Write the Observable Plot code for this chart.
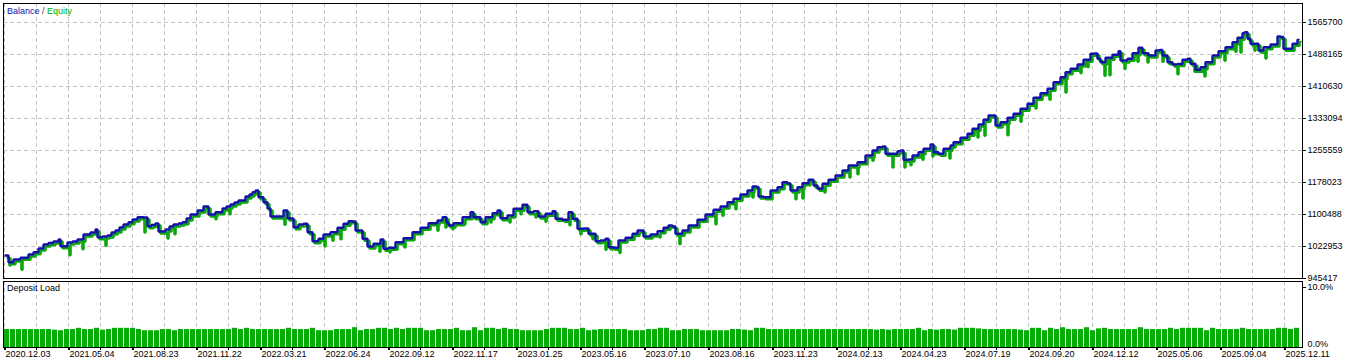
<!DOCTYPE html>
<html><head><meta charset="utf-8">
<script src="https://cdn.jsdelivr.net/npm/d3@7"></script>
<script src="https://cdn.jsdelivr.net/npm/@observablehq/plot@0.6"></script>
<style>
html,body{margin:0;padding:0;background:#fff;}
#wrap{position:relative;width:1345px;height:361px;overflow:hidden;}
#wrap svg{display:block;overflow:visible;}
.lbl{position:absolute;font:9px "Liberation Sans",Arial,sans-serif;line-height:9px;white-space:pre;}
</style></head><body>
<div id="wrap"></div>
<script>
// ---- data (trade number on x, balance in thousands) ----
const balanceTrade = [0,4,9,16,24,29,34,39,44,49,54,56,63,68,73,79,86,91,93,98,103,107,111,115,119,124,128,133,139,143,147,151,154,161,165,169,174,178,182,186,193,199,203,204,211,218,222,226,230,234,241,245,248,251,254,259,263,266,273,279,283,289,294,299,303,308,314,319,326,333,339,344,348,351,358,363,369,376,379,384,391,399,408,416,424,433,438,442,444,449,458,466,469,476,481,488,493,496,503,509,518,523,529,534,541,548,551,558,564,568,573,579,584,591,596,601,604,609,614,621,628,633,638,639,646,653,659,664,668,671,678,684,693,701,709,716,723,729,736,743,748,752,754,759,766,773,778,783,786,793,798,804,809,813,818,824,831,838,844,853,861,868,873,878,881,888,893,896,899,904,908,914,919,926,929,934,939,946,949,956,963,968,974,979,984,988,991,996,1003,1009,1016,1023,1029,1036,1043,1049,1056,1061,1066,1073,1079,1086,1090,1093,1096,1101,1108,1114,1116,1123,1128,1134,1138,1144,1151,1155,1158,1163,1168,1173,1178,1183,1186,1191,1196,1201,1208,1214,1221,1228,1233,1238,1240,1243,1246,1251,1254,1259,1266,1273,1276,1279,1284,1288,1293,1294];
const balanceK = [1001.1,984.9,991.5,995.6,1003.6,1009.1,1018.1,1027.8,1031.4,1035.1,
1039.9,1023.7,1032.6,1035.1,1039.9,1052.0,1056.9,1064.1,1045.5,1047.2,
1049.6,1056.9,1061.7,1069.0,1076.3,1081.8,1088.4,1093.9,1093.2,1072.1,
1075.0,1078.7,1059.3,1064.1,1071.4,1076.3,1078.7,1081.8,1090.8,1100.5,
1110.2,1119.9,1119.9,1100.5,1106.1,1115.0,1119.9,1124.7,1129.6,1134.4,
1144.1,1148.9,1154.5,1158.6,1142.4,1130.3,1115.0,1095.6,1095.6,1110.2,
1090.8,1069.7,1076.3,1078.0,1057.6,1035.8,1041.6,1052.0,1057.6,1068.3,
1078.0,1084.3,1083.5,1061.7,1041.6,1023.0,1029.5,1039.9,1017.4,1019.8,
1033.4,1043.1,1057.6,1068.3,1079.4,1085.9,1093.9,1081.1,1073.8,1079.4,
1093.9,1106.1,1093.9,1081.8,1093.9,1103.6,1110.2,1091.5,1098.1,1114.3,
1124.0,1106.1,1108.5,1095.6,1102.2,1108.5,1090.1,1087.6,1106.1,1090.1,
1065.8,1066.6,1053.7,1035.8,1037.5,1041.6,1021.3,1019.8,1037.5,1044.0,
1053.7,1061.7,1061.7,1047.2,1052.0,1060.0,1068.3,1073.8,1071.4,1053.7,
1061.7,1073.8,1087.6,1100.5,1111.9,1119.9,1130.3,1138.5,1148.9,1158.6,
1168.3,1167.1,1144.1,1142.4,1158.6,1166.6,1178.7,1175.6,1158.6,1166.6,
1176.3,1184.6,1170.8,1162.8,1174.9,1184.6,1195.0,1207.1,1219.2,1227.2,
1243.4,1255.6,1263.6,1265.2,1247.6,1247.6,1253.9,1255.6,1233.0,1233.7,
1243.4,1251.4,1259.7,1270.1,1251.4,1247.6,1259.7,1267.7,1275.7,1286.3,
1296.0,1308.1,1318.6,1329.9,1340.4,1340.4,1316.1,1324.1,1334.8,1344.5,
1356.6,1368.7,1383.2,1394.4,1405.1,1421.0,1433.2,1445.3,1453.5,1463.9,
1475.3,1489.9,1490.6,1477.7,1469.5,1480.2,1487.4,1496.2,1473.6,1477.7,
1491.3,1504.4,1491.3,1485.7,1497.9,1499.1,1485.7,1469.5,1463.9,1465.1,
1475.3,1477.7,1465.6,1451.1,1457.4,1469.5,1485.7,1496.2,1505.9,1518.0,
1528.6,1539.8,1542.2,1526.2,1514.1,1514.1,1497.9,1505.9,1512.4,1531.8,
1530.6,1502.0,1502.0,1514.1,1523.8,1525.7];

// equity drawdown lows (trade, value in thousands)
const dipTrade = [3,15,63,76,99,138,161,168,209,223,278,318,326,334,373,383,398,431,439,446,458,484,503,514,529,539,563,574,586,599,613,653,673,709,716,729,746,789,796,818,843,851,866,886,898,904,916,926,943,971,978,1001,1014,1029,1043,1059,1074,1081,1098,1103,1118,1131,1141,1156,1171,1188,1198,1218,1229,1234,1248,1259];
const dipLowK = [981.8,971.3,1006.7,1021.3,1029.5,1061.7,1047.2,1057.6,1093.9,1106.1,1080.4,1027.8,1041.6,1045.5,1015.0,1013.3,1025.4,1065.8,1073.8,1069.7,1081.8,1085.9,1085.9,1106.1,1098.1,1087.6,1079.4,1057.6,1045.5,1019.8,1012.0,1049.6,1033.4,1081.8,1102.2,1118.2,1146.5,1142.4,1144.1,1158.6,1195.0,1203.0,1235.4,1219.2,1219.2,1224.8,1237.9,1245.9,1241.0,1291.9,1296.0,1297.5,1330.0,1362.2,1383.2,1400.9,1448.0,1462.0,1441.4,1442.9,1458.0,1475.3,1473.6,1475.3,1445.3,1451.1,1439.7,1477.7,1499.6,1497.9,1502.0,1483.3];

// deposit load per period (%)
const depositLoad = [3.0,3.0,3.0,3.0,3.0,3.0,3.0,3.0,2.9,2.8,
3.0,3.0,3.2,3.0,3.0,3.2,2.9,3.0,3.2,3.2,
3.2,3.2,3.0,2.8,2.8,2.8,3.0,3.0,2.8,3.0,
3.0,3.0,3.0,3.0,3.0,3.0,3.0,3.0,3.2,3.0,
3.2,3.0,3.0,3.0,3.0,3.0,3.0,3.2,3.0,3.0,
3.0,3.2,2.8,2.8,2.8,3.0,3.0,3.0,3.3,2.8,
3.0,3.0,3.2,3.2,
3.0,3.2,3.0,3.2,3.2,3.2,2.8,2.8,3.0,3.0,
3.0,3.2,2.8,2.8,3.3,2.8,3.2,3.2,3.0,3.2,
3.0,3.0,2.8,2.8,2.8,2.8,3.0,3.2,3.2,3.2,
3.0,3.0,3.2,2.8,2.9,3.0,3.0,3.0,3.0,3.0,
2.8,2.8,2.8,3.0,3.0,3.2,3.2,2.8,2.8,3.0,
3.0,3.0,2.8,2.8,2.8,2.8,2.8,3.0,3.0,2.9,2.8,
3.2,3.2,3.0,3.0,3.0,3.0,3.0,3.0,3.0,3.0,
3.0,3.0,3.0,3.0,3.0,3.0,3.0,3.0,3.0,3.0,
2.9,3.0,2.9,3.0,3.0,3.0,3.0,3.2,2.8,3.0,
2.9,3.0,3.0,2.9,3.2,3.2,3.2,3.1,3.0,3.0,
3.0,3.0,3.0,3.0,2.9,2.8,3.2,3.2,2.8,3.2,
3.0,3.3,3.0,3.0,3.0,3.3,2.8,3.1,
3.2,3.0,3.0,3.0,3.0,3.0,3.3,3.0,3.0,3.0,
3.0,3.2,3.0,3.2,3.2,3.2,3.2,2.8,3.2,3.0,
3.0,3.0,3.0,3.2,3.0,3.0,3.0,3.0,3.0,3.2,
3.2,3.0,3.2];

const yTicks = [945417,1022953,1100488,1178023,1255559,1333094,1410630,1488165,1565700];
const loadTicks = [0, 10];
const dateLabels = ["2020.12.03","2021.05.04","2021.08.23","2021.11.22","2022.03.21","2022.06.24","2022.09.12","2022.11.17","2023.01.25","2023.05.16","2023.07.10","2023.08.16","2023.11.23","2024.02.13","2024.04.23","2024.07.19","2024.09.20","2024.12.12","2025.05.06","2025.09.04","2025.12.11"];
const labelStep = 64;   // trades between date labels
const gridStep = 32;    // trades between grid lines
const periodLen = 6;    // trades per deposit-load bar

// ---- build tables ----
const balance = balanceTrade.map((t, i) => ({trade: t, value: balanceK[i] * 1000, k: 0}));
function balanceAt(t) { let v = balance[0].value; for (const p of balance) { if (p.trade <= t) v = p.value; else break; } return v; }
const equity = balance.slice();
dipTrade.forEach((t, i) => {
  equity.push({trade: t, value: dipLowK[i] * 1000, k: 1});
  equity.push({trade: t + 1, value: balanceAt(t), k: -1});
});
equity.sort((a, b) => a.trade - b.trade || a.k - b.k);

const labelTrades = dateLabels.map((d, i) => i * labelStep);
const labelMap = new Map(labelTrades.map((t, i) => [t, dateLabels[i]]));
const gridTrades = d3.range(0, labelTrades[labelTrades.length - 1] + 1, gridStep);
const loadRows = depositLoad.map((v, i) => ({x1: i * periodLen, x2: i * periodLen + periodLen - 1, load: v}));

const font = '"Liberation Sans", Arial, sans-serif';
const W = 1345;
const xDomain = [-1, 1298];
const yTop = 1611737;
const gridStyle = {stroke: "#c4c4c4", strokeDasharray: "4,3"};
const baseStyle = {fontFamily: font, fontSize: "9px", color: "#000", background: "transparent", overflow: "visible"};
const pct = d => d.toFixed(1) + "%";

const main = Plot.plot({
  width: W, height: 280,
  marginLeft: 3, marginRight: 43, marginTop: 3, marginBottom: 2,
  style: baseStyle,
  x: {domain: xDomain, axis: null},
  y: {domain: [yTicks[0], yTop]},
  marks: [
    Plot.ruleY(yTicks, gridStyle),
    Plot.ruleX(gridTrades, gridStyle),
    Plot.line(equity, {x: "trade", y: "value", curve: "step-after", stroke: "#0aa80a", strokeWidth: 2.6, dx: 2, dy: 2, strokeLinejoin: "miter", strokeLinecap: "butt"}),
    Plot.line(balance, {x: "trade", y: "value", curve: "step-after", stroke: "#1212a6", strokeWidth: 2.4, strokeLinejoin: "miter", strokeLinecap: "butt"}),
    Plot.axisY(yTicks, {anchor: "right", tickSize: 3, tickPadding: 2, tickFormat: d3.format("d"), label: null}),
    Plot.frame({stroke: "#000"})
  ]
});

const lower = Plot.plot({
  width: W, height: 81,
  marginLeft: 3, marginRight: 43, marginTop: 1, marginBottom: 14,
  style: baseStyle,
  x: {domain: xDomain},
  y: {domain: [0, 11]},
  marks: [
    Plot.ruleX(gridTrades, gridStyle),
    Plot.rectY(loadRows, {x1: "x1", x2: "x2", y1: 0, y2: "load", fill: "#06ad06"}),
    Plot.axisY(loadTicks.slice(1), {anchor: "right", tickSize: 3, tickPadding: 2, tickFormat: pct, label: null}),
    Plot.axisY(loadTicks.slice(0, 1), {anchor: "right", tickSize: 0, tickPadding: 5, tickFormat: pct, dy: -3, label: null}),
    Plot.axisX(gridTrades, {tickSize: 3, tickFormat: () => "", label: null}),
    Plot.axisX(labelTrades, {tickSize: 3, tickPadding: 0, tickFormat: d => labelMap.get(d), textAnchor: "start", dx: 1, label: null}),
    Plot.frame({stroke: "#000"})
  ]
});

const wrap = document.getElementById("wrap");
wrap.appendChild(main);
wrap.appendChild(lower);

const leg = document.createElement("div");
leg.className = "lbl";
leg.style.left = "7px"; leg.style.top = "7px";
leg.innerHTML = '<span style="color:#1010b8">Balance</span><span style="color:#3a3a8a"> / </span><span style="color:#00b000">Equity</span>';
wrap.appendChild(leg);

const dl = document.createElement("div");
dl.className = "lbl";
dl.style.left = "7px"; dl.style.top = "284px";
dl.textContent = "Deposit Load";
wrap.appendChild(dl);
</script>
</body></html>
